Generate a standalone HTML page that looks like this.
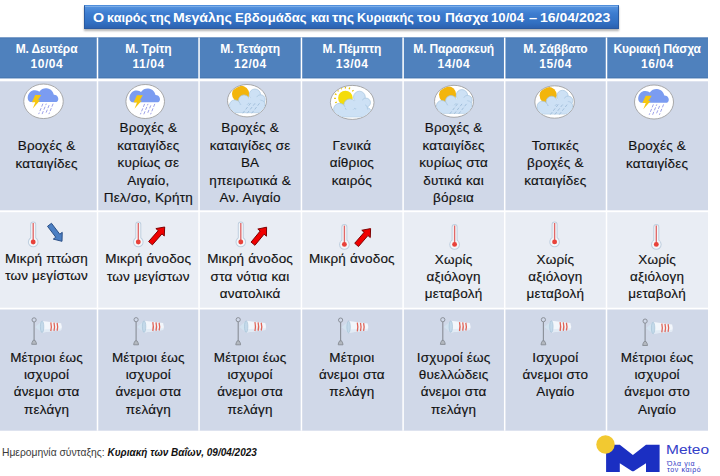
<!DOCTYPE html><html><head><meta charset="utf-8"><style>
*{margin:0;padding:0;box-sizing:border-box}
html,body{width:720px;height:476px;overflow:hidden;background:#fff}
body{position:relative;font-family:"Liberation Sans",sans-serif}
.a{position:absolute}
.hd{background:#4f81bd}
.r1{background:#d0d8e8}
.r2{background:#e9edf4}
.t{position:absolute;text-align:center;white-space:nowrap;color:#111;-webkit-text-stroke:0.15px #111;letter-spacing:0.2px;font-size:13.5px;line-height:17.4px}
.h{position:absolute;text-align:center;white-space:nowrap;color:#fff;font-weight:bold;font-size:12px;line-height:15px}
.vl{position:absolute;width:1.6px;background:#fff}
</style></head><body><div id="wrap" style="position:absolute;left:0;top:0;width:720px;height:476px">

<svg class="a" style="left:0;top:0" width="720" height="476" viewBox="0 0 720 476"><rect x="0" y="37.45" width="708" height="40.9" fill="#4f81bd"/><rect x="0" y="37.45" width="708" height="0.9" fill="#3f6ea8" opacity="0.6"/><rect x="0" y="77.2" width="708" height="1.1" fill="#3f6ea8" opacity="0.5"/><rect x="0" y="81.3" width="708" height="129" fill="#d0d8e8"/><rect x="0" y="212.2" width="708" height="95.5" fill="#e9edf4"/><rect x="0" y="309.5" width="708" height="121.2" fill="#d0d8e8"/><rect x="96.75" y="37.45" width="1.5" height="393.3" fill="#fff"/><rect x="198.30" y="37.45" width="1.5" height="393.3" fill="#fff"/><rect x="300.70" y="37.45" width="1.5" height="393.3" fill="#fff"/><rect x="402.35" y="37.45" width="1.5" height="393.3" fill="#fff"/><rect x="503.95" y="37.45" width="1.5" height="393.3" fill="#fff"/><rect x="605.75" y="37.45" width="1.5" height="393.3" fill="#fff"/></svg>
<div class="h" style="left:-4.30px;width:101.76px;top:42.34px"><span style="letter-spacing:-0.15px">Μ. Δευτέρα</span><br><span style="letter-spacing:0.55px;margin-right:-0.55px">10/04</span></div>
<div class="h" style="left:97.46px;width:101.76px;top:42.34px"><span style="letter-spacing:-0.15px">Μ. Τρίτη</span><br><span style="letter-spacing:0.55px;margin-right:-0.55px">11/04</span></div>
<div class="h" style="left:199.22px;width:101.76px;top:42.34px"><span style="letter-spacing:-0.15px">Μ. Τετάρτη</span><br><span style="letter-spacing:0.55px;margin-right:-0.55px">12/04</span></div>
<div class="h" style="left:300.98px;width:101.76px;top:42.34px"><span style="letter-spacing:-0.15px">Μ. Πέμπτη</span><br><span style="letter-spacing:0.55px;margin-right:-0.55px">13/04</span></div>
<div class="h" style="left:402.74px;width:101.76px;top:42.34px"><span style="letter-spacing:-0.15px">Μ. Παρασκευή</span><br><span style="letter-spacing:0.55px;margin-right:-0.55px">14/04</span></div>
<div class="h" style="left:504.50px;width:101.76px;top:42.34px"><span style="letter-spacing:-0.15px">Μ. Σάββατο</span><br><span style="letter-spacing:0.55px;margin-right:-0.55px">15/04</span></div>
<div class="h" style="left:606.26px;width:101.76px;top:42.34px"><span style="letter-spacing:-0.15px">Κυριακή Πάσχα</span><br><span style="letter-spacing:0.55px;margin-right:-0.55px">16/04</span></div>
<div class="t" style="left:-4.30px;width:101.76px;top:137.15px;line-height:17.55px">Βροχές &amp;<br>καταιγίδες</div>
<div class="t" style="left:97.46px;width:101.76px;top:119.05px;line-height:17.55px">Βροχές &amp;<br>καταιγίδες<br>κυρίως σε<br>Αιγαίο,<br>Πελ/σο, Κρήτη</div>
<div class="t" style="left:199.22px;width:101.76px;top:119.05px;line-height:17.55px">Βροχές &amp;<br>καταιγίδες σε<br>ΒΑ<br>ηπειρωτικά &amp;<br>Αν. Αιγαίο</div>
<div class="t" style="left:300.98px;width:101.76px;top:136.85px;line-height:17.55px">Γενικά<br>αίθριος<br>καιρός</div>
<div class="t" style="left:402.74px;width:101.76px;top:119.05px;line-height:17.55px">Βροχές &amp;<br>καταιγίδες<br>κυρίως στα<br>δυτικά και<br>βόρεια</div>
<div class="t" style="left:504.50px;width:101.76px;top:136.85px;line-height:17.55px">Τοπικές<br>βροχές &amp;<br>καταιγίδες</div>
<div class="t" style="left:606.26px;width:101.76px;top:137.15px;line-height:17.55px">Βροχές &amp;<br>καταιγίδες</div>
<div class="t" style="left:-4.30px;width:101.76px;top:249.62px;line-height:17.4px">Μικρή πτώση<br>των μεγίστων</div>
<div class="t" style="left:97.46px;width:101.76px;top:250.12px;line-height:17.4px">Μικρή άνοδος<br>των μεγίστων</div>
<div class="t" style="left:199.22px;width:101.76px;top:250.12px;line-height:17.4px">Μικρή άνοδος<br>στα νότια και<br>ανατολικά</div>
<div class="t" style="left:300.98px;width:101.76px;top:250.12px;line-height:17.4px">Μικρή άνοδος</div>
<div class="t" style="left:402.74px;width:101.76px;top:250.62px;line-height:17.4px">Χωρίς<br>αξιόλογη<br>μεταβολή</div>
<div class="t" style="left:504.50px;width:101.76px;top:250.62px;line-height:17.4px">Χωρίς<br>αξιόλογη<br>μεταβολή</div>
<div class="t" style="left:606.26px;width:101.76px;top:250.62px;line-height:17.4px">Χωρίς<br>αξιόλογη<br>μεταβολή</div>
<div class="t" style="left:-4.30px;width:101.76px;top:348.67px;line-height:17.3px">Μέτριοι έως<br>ισχυροί<br>άνεμοι στα<br>πελάγη</div>
<div class="t" style="left:97.46px;width:101.76px;top:348.67px;line-height:17.3px">Μέτριοι έως<br>ισχυροί<br>άνεμοι στα<br>πελάγη</div>
<div class="t" style="left:199.22px;width:101.76px;top:348.67px;line-height:17.3px">Μέτριοι έως<br>ισχυροί<br>άνεμοι στα<br>πελάγη</div>
<div class="t" style="left:300.98px;width:101.76px;top:348.67px;line-height:17.3px">Μέτριοι<br>άνεμοι στα<br>πελάγη</div>
<div class="t" style="left:402.74px;width:101.76px;top:348.67px;line-height:17.3px">Ισχυροί έως<br>θυελλώδεις<br>άνεμοι στα<br>πελάγη</div>
<div class="t" style="left:504.50px;width:101.76px;top:348.67px;line-height:17.3px">Ισχυροί<br>άνεμοι στο<br>Αιγαίο</div>
<div class="t" style="left:606.26px;width:101.76px;top:348.67px;line-height:17.3px">Μέτριοι έως<br>ισχυροί<br>άνεμοι στο<br>Αιγαίο</div>
<div class="a" style="left:84px;top:5px;width:535px;height:24px;background:linear-gradient(#5594e0 0,#3d7ccf 35%,#3270c2 75%,#2c62b0 100%);border:1px solid #2a5aa0;border-top-color:#4f8edb;box-shadow:0 1.5px 2px rgba(0,0,0,.3), inset 0 1px 0 rgba(255,255,255,.25)"></div>
<div class="a" style="left:92.73px;top:9.58px;color:#fff;font-weight:bold;font-size:13.32px;line-height:15px;white-space:nowrap;transform:scaleX(1.0750);transform-origin:0 0">Ο</div>
<div class="a" style="left:107.14px;top:9.58px;color:#fff;font-weight:bold;font-size:13.32px;line-height:15px;white-space:nowrap;transform:scaleX(0.9506);transform-origin:0 0">καιρός</div>
<div class="a" style="left:150.39px;top:9.58px;color:#fff;font-weight:bold;font-size:13.32px;line-height:15px;white-space:nowrap;transform:scaleX(0.9810);transform-origin:0 0">της</div>
<div class="a" style="left:173.48px;top:9.58px;color:#fff;font-weight:bold;font-size:13.32px;line-height:15px;white-space:nowrap;transform:scaleX(1.0609);transform-origin:0 0">Μεγάλης</div>
<div class="a" style="left:234.73px;top:9.58px;color:#fff;font-weight:bold;font-size:13.32px;line-height:15px;white-space:nowrap;transform:scaleX(0.9858);transform-origin:0 0">Εβδομάδας</div>
<div class="a" style="left:311.12px;top:9.58px;color:#fff;font-weight:bold;font-size:13.32px;line-height:15px;white-space:nowrap;transform:scaleX(0.9749);transform-origin:0 0">και</div>
<div class="a" style="left:332.27px;top:9.58px;color:#fff;font-weight:bold;font-size:13.32px;line-height:15px;white-space:nowrap;transform:scaleX(1.0549);transform-origin:0 0">της</div>
<div class="a" style="left:356.96px;top:9.58px;color:#fff;font-weight:bold;font-size:13.32px;line-height:15px;white-space:nowrap;transform:scaleX(0.9485);transform-origin:0 0">Κυριακής</div>
<div class="a" style="left:416.96px;top:9.58px;color:#fff;font-weight:bold;font-size:13.32px;line-height:15px;white-space:nowrap;transform:scaleX(1.0925);transform-origin:0 0">του</div>
<div class="a" style="left:444.71px;top:9.58px;color:#fff;font-weight:bold;font-size:13.32px;line-height:15px;white-space:nowrap;transform:scaleX(1.0222);transform-origin:0 0">Πάσχα</div>
<div class="a" style="left:491.35px;top:9.58px;color:#fff;font-weight:bold;font-size:13.32px;line-height:15px;white-space:nowrap;transform:scaleX(0.9901);transform-origin:0 0">10/04</div>
<div class="a" style="left:529.07px;top:9.58px;color:#fff;font-weight:bold;font-size:13.32px;line-height:15px;white-space:nowrap;transform:scaleX(1.0998);transform-origin:0 0">–</div>
<div class="a" style="left:540.21px;top:9.58px;color:#fff;font-weight:bold;font-size:13.32px;line-height:15px;white-space:nowrap;transform:scaleX(1.0539);transform-origin:0 0">16/04/2023</div>
<div class="a" style="left:2px;top:446.83px;font-size:10.3px;line-height:12px;white-space:nowrap;color:#3a3a3a">Ημερομηνία σύνταξης: <b style="color:#111;font-style:italic;font-size:10px">Κυριακή των Βαΐων, 09/04/2023</b></div>
<svg class="a" style="left:0;top:0" width="720" height="476" viewBox="0 0 720 476"><defs><radialGradient id="sunO" cx="0.4" cy="0.35" r="0.7"><stop offset="0" stop-color="#f9c515"/><stop offset="1" stop-color="#eea300"/></radialGradient><radialGradient id="sunY" cx="0.4" cy="0.35" r="0.7"><stop offset="0" stop-color="#fbe41a"/><stop offset="1" stop-color="#f1cc00"/></radialGradient><clipPath id="c0"><rect x="0" y="0" width="1" height="1"/></clipPath></defs><ellipse cx="43.50" cy="101.30" rx="19.75" ry="17.25" fill="#fff" stroke="#9c9c9c" stroke-width="0.85"/><g transform="translate(43.50 101.30)"><path fill="#7b9cf1" d="M-12,0.8 C-15.5,0.8 -16.2,-3 -15.6,-5 C-15,-8.5 -12,-11.3 -8.5,-11 C-6.5,-11 -5,-10.2 -4.2,-9.5 C-2.5,-12.3 0.5,-13.2 3,-13 C7,-12.7 9.5,-10 10.3,-6.6 C13.8,-6.8 15,-3.5 14.8,-2 C14.6,0 13.3,0.8 12,0.8 Z"/><path fill="#f6c70f" d="M-8.3,-6.2 L-2.3,-6.2 L-5.6,-1 L-3.4,-1 L-10.7,7.2 L-8.2,1 L-11.6,1 Z"/><path d="M-0.60,2.4 L-4.80,12.8" stroke="#9ea2ea" stroke-width="1" stroke-dasharray="3.2 1.6" stroke-dashoffset="0.00"/><path d="M2.80,2.4 L-1.40,12.8" stroke="#9ea2ea" stroke-width="1" stroke-dasharray="3.2 1.6" stroke-dashoffset="1.60"/><path d="M6.20,2.4 L2.00,12.8" stroke="#9ea2ea" stroke-width="1" stroke-dasharray="3.2 1.6" stroke-dashoffset="3.20"/><path d="M9.60,2.4 L5.40,12.8" stroke="#9ea2ea" stroke-width="1" stroke-dasharray="3.2 1.6" stroke-dashoffset="4.80"/></g><ellipse cx="145.20" cy="101.50" rx="19.30" ry="17.00" fill="#fff" stroke="#9c9c9c" stroke-width="0.85"/><g transform="translate(145.20 101.50)"><path fill="#7b9cf1" d="M-12,0.8 C-15.5,0.8 -16.2,-3 -15.6,-5 C-15,-8.5 -12,-11.3 -8.5,-11 C-6.5,-11 -5,-10.2 -4.2,-9.5 C-2.5,-12.3 0.5,-13.2 3,-13 C7,-12.7 9.5,-10 10.3,-6.6 C13.8,-6.8 15,-3.5 14.8,-2 C14.6,0 13.3,0.8 12,0.8 Z"/><path fill="#f6c70f" d="M-8.3,-6.2 L-2.3,-6.2 L-5.6,-1 L-3.4,-1 L-10.7,7.2 L-8.2,1 L-11.6,1 Z"/><path d="M-0.60,2.4 L-4.80,12.8" stroke="#9ea2ea" stroke-width="1" stroke-dasharray="3.2 1.6" stroke-dashoffset="0.00"/><path d="M2.80,2.4 L-1.40,12.8" stroke="#9ea2ea" stroke-width="1" stroke-dasharray="3.2 1.6" stroke-dashoffset="1.60"/><path d="M6.20,2.4 L2.00,12.8" stroke="#9ea2ea" stroke-width="1" stroke-dasharray="3.2 1.6" stroke-dashoffset="3.20"/><path d="M9.60,2.4 L5.40,12.8" stroke="#9ea2ea" stroke-width="1" stroke-dasharray="3.2 1.6" stroke-dashoffset="4.80"/></g><ellipse cx="247.00" cy="100.70" rx="19.50" ry="16.20" fill="#fff" stroke="#9c9c9c" stroke-width="0.85"/><clipPath id="cl247"><ellipse cx="247.00" cy="100.70" rx="18.90" ry="15.60"/></clipPath><g clip-path="url(#cl247)"><circle cx="240.60" cy="94.00" r="8.6" fill="#f3b50c"/><g transform="translate(247.00 100.70)"><rect x="-17.00" y="2.00" width="35.50" height="10.00" rx="5" fill="#cde1f5" stroke="#a8c5e0" stroke-width="0.7"/><circle cx="7.90" cy="-6.00" r="5.70" fill="#cde1f5" stroke="#a8c5e0" stroke-width="0.7"/><circle cx="13.60" cy="-1.30" r="4.60" fill="#cde1f5" stroke="#a8c5e0" stroke-width="0.7"/><circle cx="13.60" cy="4.00" r="4.50" fill="#cde1f5" stroke="#a8c5e0" stroke-width="0.7"/><circle cx="-3.00" cy="-0.30" r="5.50" fill="#cde1f5" stroke="#a8c5e0" stroke-width="0.7"/><circle cx="-12.10" cy="4.70" r="5.50" fill="#cde1f5" stroke="#a8c5e0" stroke-width="0.7"/><rect x="-16.50" y="4.00" width="34.50" height="7.50" rx="4.5" fill="#cde1f5"/><path fill="#cde1f5" d="M7.90,-5.00 L13.60,-0.30 L13.60,5.00 L-3.00,0.70 L-12.10,5.70 Z"/></g><path d="M250.50,103.30 L242.00,114.20" stroke="#9dbbd8" stroke-width="0.9" stroke-dasharray="3 1.8"/><path d="M255.00,103.30 L246.50,114.20" stroke="#9dbbd8" stroke-width="0.9" stroke-dasharray="3 1.8"/><path d="M259.50,103.30 L251.00,114.20" stroke="#9dbbd8" stroke-width="0.9" stroke-dasharray="3 1.8"/></g><ellipse cx="352.20" cy="102.40" rx="21.80" ry="17.00" fill="#fff" stroke="#9c9c9c" stroke-width="0.85"/><clipPath id="cl352"><ellipse cx="352.20" cy="102.40" rx="21.20" ry="16.40"/></clipPath><g clip-path="url(#cl352)"><path d="M336.79,102.01 L335.16,102.78" stroke="#ebc400" stroke-width="1.3"/><path d="M335.91,98.33 L334.11,98.39" stroke="#ebc400" stroke-width="1.3"/><path d="M336.53,94.60 L334.85,93.95" stroke="#ebc400" stroke-width="1.3"/><path d="M338.57,91.40 L337.27,90.15" stroke="#ebc400" stroke-width="1.3"/><path d="M341.69,89.26 L340.98,87.60" stroke="#ebc400" stroke-width="1.3"/><path d="M345.40,88.50 L345.40,86.70" stroke="#ebc400" stroke-width="1.3"/><path d="M349.11,89.26 L349.82,87.60" stroke="#ebc400" stroke-width="1.3"/><path d="M352.23,91.40 L353.53,90.15" stroke="#ebc400" stroke-width="1.3"/><circle cx="345.40" cy="98.00" r="7.3" fill="#f4dc0c"/><g transform="translate(352.20 102.40)"><rect x="-18.00" y="5.00" width="37.00" height="9.50" rx="5" fill="#cde1f5" stroke="#a8c5e0" stroke-width="0.7"/><circle cx="7.20" cy="-5.30" r="5.90" fill="#cde1f5" stroke="#a8c5e0" stroke-width="0.7"/><circle cx="13.80" cy="0.20" r="4.50" fill="#cde1f5" stroke="#a8c5e0" stroke-width="0.7"/><circle cx="9.40" cy="6.90" r="6.00" fill="#cde1f5" stroke="#a8c5e0" stroke-width="0.7"/><circle cx="-2.30" cy="2.50" r="6.00" fill="#cde1f5" stroke="#a8c5e0" stroke-width="0.7"/><circle cx="-12.60" cy="6.90" r="6.00" fill="#cde1f5" stroke="#a8c5e0" stroke-width="0.7"/><rect x="-17.50" y="7.00" width="36.00" height="7.00" rx="4.5" fill="#cde1f5"/><path fill="#cde1f5" d="M7.20,-4.30 L13.80,1.20 L9.40,7.90 L-2.30,3.50 L-12.60,7.90 Z"/></g></g><ellipse cx="454.00" cy="101.30" rx="19.50" ry="16.00" fill="#fff" stroke="#9c9c9c" stroke-width="0.85"/><clipPath id="cl454"><ellipse cx="454.00" cy="101.30" rx="18.90" ry="15.40"/></clipPath><g clip-path="url(#cl454)"><circle cx="447.60" cy="94.60" r="8.6" fill="#f3b50c"/><g transform="translate(454.00 101.30)"><rect x="-17.00" y="2.00" width="35.50" height="10.00" rx="5" fill="#cde1f5" stroke="#a8c5e0" stroke-width="0.7"/><circle cx="7.90" cy="-6.00" r="5.70" fill="#cde1f5" stroke="#a8c5e0" stroke-width="0.7"/><circle cx="13.60" cy="-1.30" r="4.60" fill="#cde1f5" stroke="#a8c5e0" stroke-width="0.7"/><circle cx="13.60" cy="4.00" r="4.50" fill="#cde1f5" stroke="#a8c5e0" stroke-width="0.7"/><circle cx="-3.00" cy="-0.30" r="5.50" fill="#cde1f5" stroke="#a8c5e0" stroke-width="0.7"/><circle cx="-12.10" cy="4.70" r="5.50" fill="#cde1f5" stroke="#a8c5e0" stroke-width="0.7"/><rect x="-16.50" y="4.00" width="34.50" height="7.50" rx="4.5" fill="#cde1f5"/><path fill="#cde1f5" d="M7.90,-5.00 L13.60,-0.30 L13.60,5.00 L-3.00,0.70 L-12.10,5.70 Z"/></g><path d="M457.50,103.90 L449.00,114.80" stroke="#9dbbd8" stroke-width="0.9" stroke-dasharray="3 1.8"/><path d="M462.00,103.90 L453.50,114.80" stroke="#9dbbd8" stroke-width="0.9" stroke-dasharray="3 1.8"/><path d="M466.50,103.90 L458.00,114.80" stroke="#9dbbd8" stroke-width="0.9" stroke-dasharray="3 1.8"/></g><ellipse cx="554.60" cy="102.00" rx="19.75" ry="16.20" fill="#fff" stroke="#9c9c9c" stroke-width="0.85"/><clipPath id="cl554"><ellipse cx="554.60" cy="102.00" rx="19.15" ry="15.60"/></clipPath><g clip-path="url(#cl554)"><circle cx="548.20" cy="95.30" r="8.6" fill="#f3b50c"/><g transform="translate(554.60 102.00)"><rect x="-17.00" y="2.00" width="35.50" height="10.00" rx="5" fill="#cde1f5" stroke="#a8c5e0" stroke-width="0.7"/><circle cx="7.90" cy="-6.00" r="5.70" fill="#cde1f5" stroke="#a8c5e0" stroke-width="0.7"/><circle cx="13.60" cy="-1.30" r="4.60" fill="#cde1f5" stroke="#a8c5e0" stroke-width="0.7"/><circle cx="13.60" cy="4.00" r="4.50" fill="#cde1f5" stroke="#a8c5e0" stroke-width="0.7"/><circle cx="-3.00" cy="-0.30" r="5.50" fill="#cde1f5" stroke="#a8c5e0" stroke-width="0.7"/><circle cx="-12.10" cy="4.70" r="5.50" fill="#cde1f5" stroke="#a8c5e0" stroke-width="0.7"/><rect x="-16.50" y="4.00" width="34.50" height="7.50" rx="4.5" fill="#cde1f5"/><path fill="#cde1f5" d="M7.90,-5.00 L13.60,-0.30 L13.60,5.00 L-3.00,0.70 L-12.10,5.70 Z"/></g><path d="M558.10,104.60 L549.60,115.50" stroke="#9dbbd8" stroke-width="0.9" stroke-dasharray="3 1.8"/><path d="M562.60,104.60 L554.10,115.50" stroke="#9dbbd8" stroke-width="0.9" stroke-dasharray="3 1.8"/><path d="M567.10,104.60 L558.60,115.50" stroke="#9dbbd8" stroke-width="0.9" stroke-dasharray="3 1.8"/></g><ellipse cx="654.00" cy="102.00" rx="19.50" ry="17.00" fill="#fff" stroke="#9c9c9c" stroke-width="0.85"/><g transform="translate(654.00 102.00)"><path fill="#7b9cf1" d="M-12,0.8 C-15.5,0.8 -16.2,-3 -15.6,-5 C-15,-8.5 -12,-11.3 -8.5,-11 C-6.5,-11 -5,-10.2 -4.2,-9.5 C-2.5,-12.3 0.5,-13.2 3,-13 C7,-12.7 9.5,-10 10.3,-6.6 C13.8,-6.8 15,-3.5 14.8,-2 C14.6,0 13.3,0.8 12,0.8 Z"/><path fill="#f6c70f" d="M-8.3,-6.2 L-2.3,-6.2 L-5.6,-1 L-3.4,-1 L-10.7,7.2 L-8.2,1 L-11.6,1 Z"/><path d="M-0.60,2.4 L-4.80,12.8" stroke="#9ea2ea" stroke-width="1" stroke-dasharray="3.2 1.6" stroke-dashoffset="0.00"/><path d="M2.80,2.4 L-1.40,12.8" stroke="#9ea2ea" stroke-width="1" stroke-dasharray="3.2 1.6" stroke-dashoffset="1.60"/><path d="M6.20,2.4 L2.00,12.8" stroke="#9ea2ea" stroke-width="1" stroke-dasharray="3.2 1.6" stroke-dashoffset="3.20"/><path d="M9.60,2.4 L5.40,12.8" stroke="#9ea2ea" stroke-width="1" stroke-dasharray="3.2 1.6" stroke-dashoffset="4.80"/></g><path d="M33.20,224.40 L33.20,242.00" stroke="#bfcfdf" stroke-width="6" stroke-linecap="round"/><circle cx="33.20" cy="242.00" r="5.3" fill="#bfcfdf"/><path d="M33.20,224.40 L33.20,242.00" stroke="#f4f7fa" stroke-width="4" stroke-linecap="round"/><circle cx="33.20" cy="242.00" r="4.3" fill="#f4f7fa"/><path d="M33.20,222.90 L33.20,242.00" stroke="#e06868" stroke-width="1.35"/><circle cx="33.20" cy="242.00" r="2.45" fill="#e8423a"/><path d="M138.30,224.40 L138.30,242.00" stroke="#bfcfdf" stroke-width="6" stroke-linecap="round"/><circle cx="138.30" cy="242.00" r="5.3" fill="#bfcfdf"/><path d="M138.30,224.40 L138.30,242.00" stroke="#f4f7fa" stroke-width="4" stroke-linecap="round"/><circle cx="138.30" cy="242.00" r="4.3" fill="#f4f7fa"/><path d="M138.30,222.90 L138.30,242.00" stroke="#e06868" stroke-width="1.35"/><circle cx="138.30" cy="242.00" r="2.45" fill="#e8423a"/><path d="M240.80,224.40 L240.80,242.00" stroke="#bfcfdf" stroke-width="6" stroke-linecap="round"/><circle cx="240.80" cy="242.00" r="5.3" fill="#bfcfdf"/><path d="M240.80,224.40 L240.80,242.00" stroke="#f4f7fa" stroke-width="4" stroke-linecap="round"/><circle cx="240.80" cy="242.00" r="4.3" fill="#f4f7fa"/><path d="M240.80,222.90 L240.80,242.00" stroke="#e06868" stroke-width="1.35"/><circle cx="240.80" cy="242.00" r="2.45" fill="#e8423a"/><path d="M344.40,227.10 L344.40,244.40" stroke="#bfcfdf" stroke-width="6" stroke-linecap="round"/><circle cx="344.40" cy="244.40" r="5.3" fill="#bfcfdf"/><path d="M344.40,227.10 L344.40,244.40" stroke="#f4f7fa" stroke-width="4" stroke-linecap="round"/><circle cx="344.40" cy="244.40" r="4.3" fill="#f4f7fa"/><path d="M344.40,225.60 L344.40,244.40" stroke="#e06868" stroke-width="1.35"/><circle cx="344.40" cy="244.40" r="2.45" fill="#e8423a"/><path d="M454.60,227.00 L454.60,244.40" stroke="#bfcfdf" stroke-width="6" stroke-linecap="round"/><circle cx="454.60" cy="244.40" r="5.3" fill="#bfcfdf"/><path d="M454.60,227.00 L454.60,244.40" stroke="#f4f7fa" stroke-width="4" stroke-linecap="round"/><circle cx="454.60" cy="244.40" r="4.3" fill="#f4f7fa"/><path d="M454.60,225.50 L454.60,244.40" stroke="#e06868" stroke-width="1.35"/><circle cx="454.60" cy="244.40" r="2.45" fill="#e8423a"/><path d="M554.60,224.50 L554.60,241.90" stroke="#bfcfdf" stroke-width="6" stroke-linecap="round"/><circle cx="554.60" cy="241.90" r="5.3" fill="#bfcfdf"/><path d="M554.60,224.50 L554.60,241.90" stroke="#f4f7fa" stroke-width="4" stroke-linecap="round"/><circle cx="554.60" cy="241.90" r="4.3" fill="#f4f7fa"/><path d="M554.60,223.00 L554.60,241.90" stroke="#e06868" stroke-width="1.35"/><circle cx="554.60" cy="241.90" r="2.45" fill="#e8423a"/><path d="M656.30,227.00 L656.30,244.40" stroke="#bfcfdf" stroke-width="6" stroke-linecap="round"/><circle cx="656.30" cy="244.40" r="5.3" fill="#bfcfdf"/><path d="M656.30,227.00 L656.30,244.40" stroke="#f4f7fa" stroke-width="4" stroke-linecap="round"/><circle cx="656.30" cy="244.40" r="4.3" fill="#f4f7fa"/><path d="M656.30,225.50 L656.30,244.40" stroke="#e06868" stroke-width="1.35"/><circle cx="656.30" cy="244.40" r="2.45" fill="#e8423a"/><path transform="translate(49.50 224.80) rotate(52.85)" d="M0.00,-2.50 L13.70,-2.50 L13.70,-5.60 L20.70,0.00 L13.70,5.60 L13.70,2.50 L0.00,2.50 Z" fill="#4b7fc3" stroke="#2b4f86" stroke-width="0.9" stroke-linejoin="miter"/><path transform="translate(150.50 243.20) rotate(-48.76)" d="M0.00,-2.50 L14.54,-2.50 L14.54,-5.60 L21.54,0.00 L14.54,5.60 L14.54,2.50 L0.00,2.50 Z" fill="#f00000" stroke="#7a0000" stroke-width="0.9" stroke-linejoin="miter"/><path transform="translate(253.00 243.70) rotate(-50.50)" d="M0.00,-2.50 L14.38,-2.50 L14.38,-5.60 L21.38,0.00 L14.38,5.60 L14.38,2.50 L0.00,2.50 Z" fill="#f00000" stroke="#7a0000" stroke-width="0.9" stroke-linejoin="miter"/><path transform="translate(356.60 244.90) rotate(-49.34)" d="M0.00,-2.50 L14.49,-2.50 L14.49,-5.60 L21.49,0.00 L14.49,5.60 L14.49,2.50 L0.00,2.50 Z" fill="#f00000" stroke="#7a0000" stroke-width="0.9" stroke-linejoin="miter"/><path d="M34.10,321.90 L34.10,341.90" stroke="#8b9099" stroke-width="1.15"/><circle cx="34.10" cy="319.90" r="2.1" fill="none" stroke="#8b9099" stroke-width="1"/><path d="M33.20,340.30 Q31.70,342.40 31.70,344.30 L36.50,344.30 Q36.50,342.40 35.00,340.30 Z" fill="#b3b8bf" stroke="#878c94" stroke-width="0.9"/><path d="M35.10,327.10 L42.10,320.90 L42.10,332.60 Z" fill="#d3e3f0"/><path d="M42.10,320.90 L61.10,323.30 Q62.60,326.90 61.10,330.30 L42.10,332.60 Z" fill="#f2f6fb"/><path d="M42.10,329.40 L61.60,328.50 L61.10,330.30 L42.10,332.60 Z" fill="#dde9f4" opacity="0.8"/><ellipse cx="42.10" cy="326.75" rx="1.7" ry="5.85" fill="#c3d9ea" stroke="#a3bfd3" stroke-width="0.6"/><path d="M50.80,322.40 Q51.90,326.80 50.80,331.20" fill="none" stroke="#e06458" stroke-width="1.3"/><path d="M54.00,322.65 Q55.10,326.80 54.00,330.95" fill="none" stroke="#e06458" stroke-width="1.3"/><path d="M57.10,322.90 Q58.20,326.80 57.10,330.70" fill="none" stroke="#e06458" stroke-width="1.3"/><path d="M136.10,321.70 L136.10,342.40" stroke="#8b9099" stroke-width="1.15"/><circle cx="136.10" cy="319.70" r="2.1" fill="none" stroke="#8b9099" stroke-width="1"/><path d="M135.20,340.80 Q133.70,342.90 133.70,344.80 L138.50,344.80 Q138.50,342.90 137.00,340.80 Z" fill="#b3b8bf" stroke="#878c94" stroke-width="0.9"/><path d="M137.10,326.90 L144.10,320.70 L144.10,332.40 Z" fill="#d3e3f0"/><path d="M144.10,320.70 L163.10,323.10 Q164.60,326.70 163.10,330.10 L144.10,332.40 Z" fill="#f2f6fb"/><path d="M144.10,329.20 L163.60,328.30 L163.10,330.10 L144.10,332.40 Z" fill="#dde9f4" opacity="0.8"/><ellipse cx="144.10" cy="326.55" rx="1.7" ry="5.85" fill="#c3d9ea" stroke="#a3bfd3" stroke-width="0.6"/><path d="M152.80,322.20 Q153.90,326.60 152.80,331.00" fill="none" stroke="#e06458" stroke-width="1.3"/><path d="M156.00,322.45 Q157.10,326.60 156.00,330.75" fill="none" stroke="#e06458" stroke-width="1.3"/><path d="M159.10,322.70 Q160.20,326.60 159.10,330.50" fill="none" stroke="#e06458" stroke-width="1.3"/><path d="M238.20,321.70 L238.20,342.40" stroke="#8b9099" stroke-width="1.15"/><circle cx="238.20" cy="319.70" r="2.1" fill="none" stroke="#8b9099" stroke-width="1"/><path d="M237.30,340.80 Q235.80,342.90 235.80,344.80 L240.60,344.80 Q240.60,342.90 239.10,340.80 Z" fill="#b3b8bf" stroke="#878c94" stroke-width="0.9"/><path d="M239.20,326.90 L246.20,320.70 L246.20,332.40 Z" fill="#d3e3f0"/><path d="M246.20,320.70 L265.20,323.10 Q266.70,326.70 265.20,330.10 L246.20,332.40 Z" fill="#f2f6fb"/><path d="M246.20,329.20 L265.70,328.30 L265.20,330.10 L246.20,332.40 Z" fill="#dde9f4" opacity="0.8"/><ellipse cx="246.20" cy="326.55" rx="1.7" ry="5.85" fill="#c3d9ea" stroke="#a3bfd3" stroke-width="0.6"/><path d="M254.90,322.20 Q256.00,326.60 254.90,331.00" fill="none" stroke="#e06458" stroke-width="1.3"/><path d="M258.10,322.45 Q259.20,326.60 258.10,330.75" fill="none" stroke="#e06458" stroke-width="1.3"/><path d="M261.20,322.70 Q262.30,326.60 261.20,330.50" fill="none" stroke="#e06458" stroke-width="1.3"/><path d="M340.60,322.10 L340.60,342.40" stroke="#8b9099" stroke-width="1.15"/><circle cx="340.60" cy="320.10" r="2.1" fill="none" stroke="#8b9099" stroke-width="1"/><path d="M339.70,340.80 Q338.20,342.90 338.20,344.80 L343.00,344.80 Q343.00,342.90 341.50,340.80 Z" fill="#b3b8bf" stroke="#878c94" stroke-width="0.9"/><path d="M341.60,327.30 L348.60,321.10 L348.60,332.80 Z" fill="#d3e3f0"/><path d="M348.60,321.10 L367.60,323.50 Q369.10,327.10 367.60,330.50 L348.60,332.80 Z" fill="#f2f6fb"/><path d="M348.60,329.60 L368.10,328.70 L367.60,330.50 L348.60,332.80 Z" fill="#dde9f4" opacity="0.8"/><ellipse cx="348.60" cy="326.95" rx="1.7" ry="5.85" fill="#c3d9ea" stroke="#a3bfd3" stroke-width="0.6"/><path d="M357.30,322.60 Q358.40,327.00 357.30,331.40" fill="none" stroke="#e06458" stroke-width="1.3"/><path d="M360.50,322.85 Q361.60,327.00 360.50,331.15" fill="none" stroke="#e06458" stroke-width="1.3"/><path d="M363.60,323.10 Q364.70,327.00 363.60,330.90" fill="none" stroke="#e06458" stroke-width="1.3"/><path d="M442.80,321.70 L442.80,342.00" stroke="#8b9099" stroke-width="1.15"/><circle cx="442.80" cy="319.70" r="2.1" fill="none" stroke="#8b9099" stroke-width="1"/><path d="M441.90,340.40 Q440.40,342.50 440.40,344.40 L445.20,344.40 Q445.20,342.50 443.70,340.40 Z" fill="#b3b8bf" stroke="#878c94" stroke-width="0.9"/><path d="M443.80,326.90 L450.80,320.70 L450.80,332.40 Z" fill="#d3e3f0"/><path d="M450.80,320.70 L469.80,323.10 Q471.30,326.70 469.80,330.10 L450.80,332.40 Z" fill="#f2f6fb"/><path d="M450.80,329.20 L470.30,328.30 L469.80,330.10 L450.80,332.40 Z" fill="#dde9f4" opacity="0.8"/><ellipse cx="450.80" cy="326.55" rx="1.7" ry="5.85" fill="#c3d9ea" stroke="#a3bfd3" stroke-width="0.6"/><path d="M459.50,322.20 Q460.60,326.60 459.50,331.00" fill="none" stroke="#e06458" stroke-width="1.3"/><path d="M462.70,322.45 Q463.80,326.60 462.70,330.75" fill="none" stroke="#e06458" stroke-width="1.3"/><path d="M465.80,322.70 Q466.90,326.60 465.80,330.50" fill="none" stroke="#e06458" stroke-width="1.3"/><path d="M543.40,321.70 L543.40,342.40" stroke="#8b9099" stroke-width="1.15"/><circle cx="543.40" cy="319.70" r="2.1" fill="none" stroke="#8b9099" stroke-width="1"/><path d="M542.50,340.80 Q541.00,342.90 541.00,344.80 L545.80,344.80 Q545.80,342.90 544.30,340.80 Z" fill="#b3b8bf" stroke="#878c94" stroke-width="0.9"/><path d="M544.40,326.90 L551.40,320.70 L551.40,332.40 Z" fill="#d3e3f0"/><path d="M551.40,320.70 L570.40,323.10 Q571.90,326.70 570.40,330.10 L551.40,332.40 Z" fill="#f2f6fb"/><path d="M551.40,329.20 L570.90,328.30 L570.40,330.10 L551.40,332.40 Z" fill="#dde9f4" opacity="0.8"/><ellipse cx="551.40" cy="326.55" rx="1.7" ry="5.85" fill="#c3d9ea" stroke="#a3bfd3" stroke-width="0.6"/><path d="M560.10,322.20 Q561.20,326.60 560.10,331.00" fill="none" stroke="#e06458" stroke-width="1.3"/><path d="M563.30,322.45 Q564.40,326.60 563.30,330.75" fill="none" stroke="#e06458" stroke-width="1.3"/><path d="M566.40,322.70 Q567.50,326.60 566.40,330.50" fill="none" stroke="#e06458" stroke-width="1.3"/><path d="M645.10,323.10 L645.10,343.10" stroke="#8b9099" stroke-width="1.15"/><circle cx="645.10" cy="321.10" r="2.1" fill="none" stroke="#8b9099" stroke-width="1"/><path d="M644.20,341.50 Q642.70,343.60 642.70,345.50 L647.50,345.50 Q647.50,343.60 646.00,341.50 Z" fill="#b3b8bf" stroke="#878c94" stroke-width="0.9"/><path d="M646.10,328.30 L653.10,322.10 L653.10,333.80 Z" fill="#d3e3f0"/><path d="M653.10,322.10 L672.10,324.50 Q673.60,328.10 672.10,331.50 L653.10,333.80 Z" fill="#f2f6fb"/><path d="M653.10,330.60 L672.60,329.70 L672.10,331.50 L653.10,333.80 Z" fill="#dde9f4" opacity="0.8"/><ellipse cx="653.10" cy="327.95" rx="1.7" ry="5.85" fill="#c3d9ea" stroke="#a3bfd3" stroke-width="0.6"/><path d="M661.80,323.60 Q662.90,328.00 661.80,332.40" fill="none" stroke="#e06458" stroke-width="1.3"/><path d="M665.00,323.85 Q666.10,328.00 665.00,332.15" fill="none" stroke="#e06458" stroke-width="1.3"/><path d="M668.10,324.10 Q669.20,328.00 668.10,331.90" fill="none" stroke="#e06458" stroke-width="1.3"/><path fill="#1b2fc2" d="M606.1,444.7 L619.8,444.7 L632.9,454.9 L646,444.7 L659.6,444.7 L659.6,471.9 L646,471.9 L646,463.2 L634,471 Q632.9,471.7 631.8,471 L619.8,463.2 L619.8,471.9 L606.1,471.9 Z"/><circle cx="605.5" cy="444.5" r="9.2" fill="#f2c931"/></svg>
<div class="a" style="left:665.9px;top:443.10px;font-size:13px;line-height:14px;transform:scaleX(1.19);transform-origin:0 0;color:#3440c8;white-space:nowrap">Meteo</div>
<div class="a" style="left:667px;top:460.52px;font-size:7px;line-height:6.5px;letter-spacing:0.6px;color:#2b35c4;white-space:nowrap">Όλα για<br>τον καιρό</div>
</div></body></html>
